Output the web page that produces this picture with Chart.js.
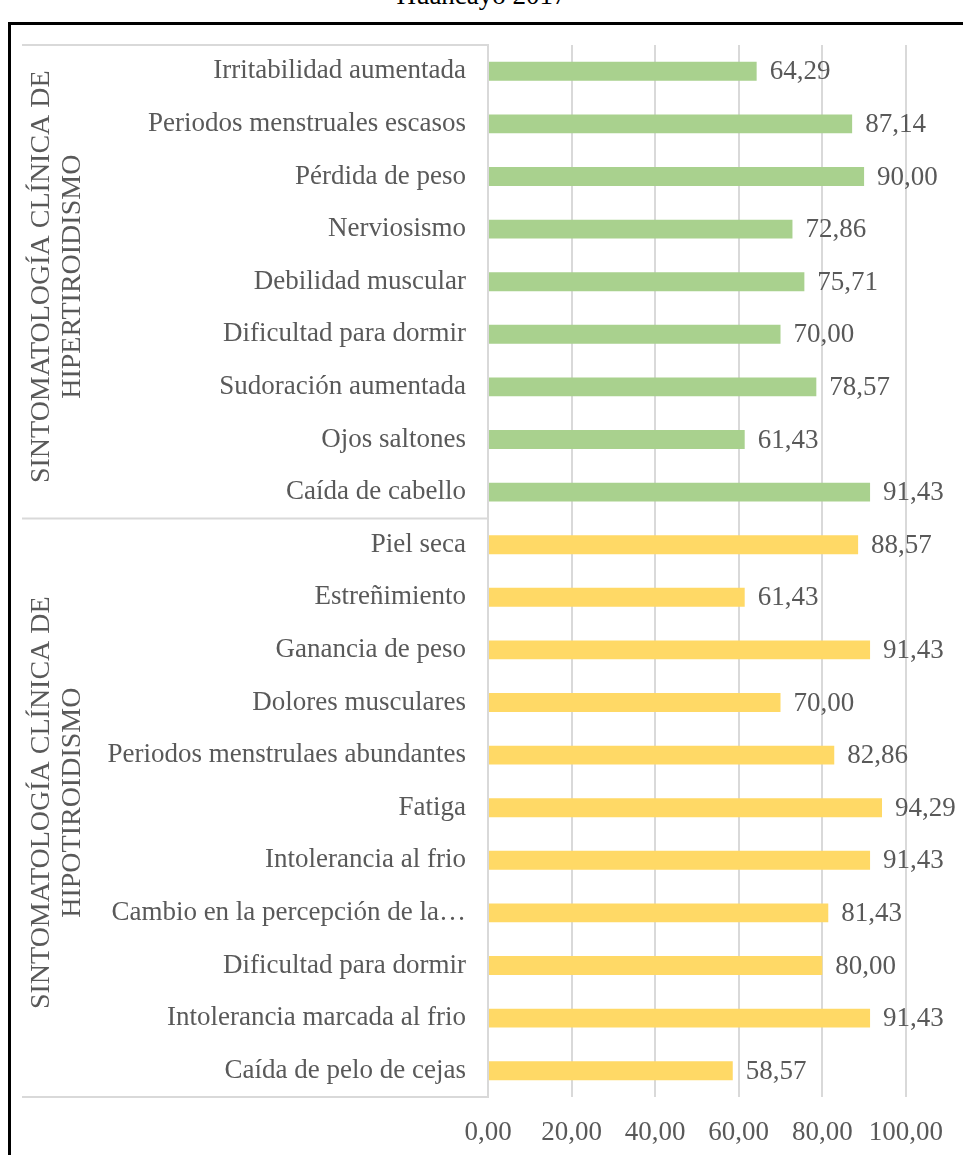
<!DOCTYPE html>
<html>
<head>
<meta charset="utf-8">
<script src="https://cdn.jsdelivr.net/npm/chart.js@4.4.0/dist/chart.umd.min.js"></script>
<style>
body { margin: 0; background: #fff; overflow: hidden; }
#wrap { position: relative; width: 963px; height: 1155px; overflow: hidden; background: #fff; }
#title { position: absolute; top: -20px; left: 0; width: 963px; text-align: center; font: 27px "Liberation Serif"; color: #000; }
#frame { position: absolute; left: 8px; top: 22px; width: 1000px; height: 1200px; border: 3px solid #000; box-sizing: border-box; }
canvas { position: absolute; left: 0; top: 0; }
</style>
</head>
<body>
<div id="wrap">
  <div id="title">Huancayo 2017</div>
  <div id="frame"></div>
  <canvas id="chart" width="963" height="1155"></canvas>
</div>
<script>
// datos
const hiperLabels = ["Irritabilidad aumentada", "Periodos menstruales escasos", "Pérdida de peso", "Nerviosismo",
    "Debilidad muscular", "Dificultad para dormir", "Sudoración aumentada", "Ojos saltones", "Caída de cabello"];
const hiperValues = [64.29, 87.14, 90.00, 72.86, 75.71, 70.00, 78.57, 61.43, 91.43];
const hipoLabels = ["Piel seca", "Estreñimiento", "Ganancia de peso", "Dolores musculares",
    "Periodos menstrulaes abundantes", "Fatiga", "Intolerancia al frio", "Cambio en la percepción de la…",
    "Dificultad para dormir", "Intolerancia marcada al frio", "Caída de pelo de cejas"];
const hipoValues = [88.57, 61.43, 91.43, 70.00, 82.86, 94.29, 91.43, 81.43, 80.00, 91.43, 58.57];
const groupTitles = [["SINTOMATOLOGÍA CLÍNICA DE", "HIPERTIROIDISMO"], ["SINTOMATOLOGÍA CLÍNICA DE", "HIPOTIROIDISMO"]];

const FONT = "Liberation Serif";
const FSIZE = 27;
const TXT = "#595959";
const GRID = "#D9D9D9";

function fmt(v) {
    return v.toFixed(2).replace(".", ",");
}

const labels = hiperLabels.concat(hipoLabels);
const values = hiperValues.concat(hipoValues);
const colors = hiperValues.map(() => "#A9D18E").concat(hipoValues.map(() => "#FFD966"));

const valueLabels = {
    id: "valueLabels",
    afterDatasetsDraw(chart) {
        const ctx = chart.ctx;
        const meta = chart.getDatasetMeta(0);
        ctx.save();
        ctx.font = FSIZE + "px '" + FONT + "'";
        ctx.fillStyle = TXT;
        ctx.textAlign = "left";
        ctx.textBaseline = "middle";
        meta.data.forEach((bar, i) => {
            ctx.fillText(fmt(values[i]), bar.x + 13, bar.y + 1);
        });
        ctx.restore();
    }
};

const groupBox = {
    id: "groupBox",
    afterDraw(chart) {
        const ctx = chart.ctx;
        const area = chart.chartArea;
        const y = chart.scales.y;
        const left = 22;
        const sep = (y.getPixelForValue(hiperLabels.length - 1) + y.getPixelForValue(hiperLabels.length)) / 2;
        ctx.save();
        ctx.strokeStyle = GRID;
        ctx.lineWidth = 2;
        [area.top, sep, area.bottom].forEach(py => {
            ctx.beginPath();
            ctx.moveTo(left, py);
            ctx.lineTo(area.left, py);
            ctx.stroke();
        });
        const spans = [[area.top, sep], [sep, area.bottom]];
        ctx.font = "28px '" + FONT + "'";
        ctx.fillStyle = TXT;
        ctx.textAlign = "center";
        ctx.textBaseline = "middle";
        spans.forEach((s, g) => {
            const cy = (s[0] + s[1]) / 2 - 5;
            ctx.save();
            ctx.translate(42, cy);
            ctx.rotate(-Math.PI / 2);
            ctx.fillText(groupTitles[g][0], 0, 0);
            ctx.fillText(groupTitles[g][1], 0, 31);
            ctx.restore();
        });
        ctx.restore();
    }
};

new Chart(document.getElementById("chart"), {
    type: "bar",
    data: {
        labels: labels,
        datasets: [{
            data: values,
            backgroundColor: colors,
            barPercentage: 0.36,
            categoryPercentage: 1
        }]
    },
    options: {
        indexAxis: "y",
        responsive: false,
        animation: false,
        devicePixelRatio: 1,
        layout: { padding: { left: 22, right: 53, top: 45, bottom: 0 } },
        plugins: {
            legend: { display: false },
            tooltip: { enabled: false }
        },
        scales: {
            x: {
                min: 0,
                max: 100,
                ticks: {
                    stepSize: 20,
                    padding: 20,
                    color: TXT,
                    font: { family: FONT, size: FSIZE },
                    callback: v => fmt(v)
                },
                grid: { color: GRID, lineWidth: 2, drawTicks: false },
                border: { display: false },
                afterFit: s => { s.height = 58; }
            },
            y: {
                ticks: {
                    padding: 22,
                    color: TXT,
                    autoSkip: false,
                    font: { family: FONT, size: FSIZE }
                },
                grid: { display: false, drawTicks: false },
                border: { display: true, color: GRID, width: 2 },
                afterFit: s => { s.width = 466; }
            }
        }
    },
    plugins: [valueLabels, groupBox]
});
</script>
</body>
</html>
